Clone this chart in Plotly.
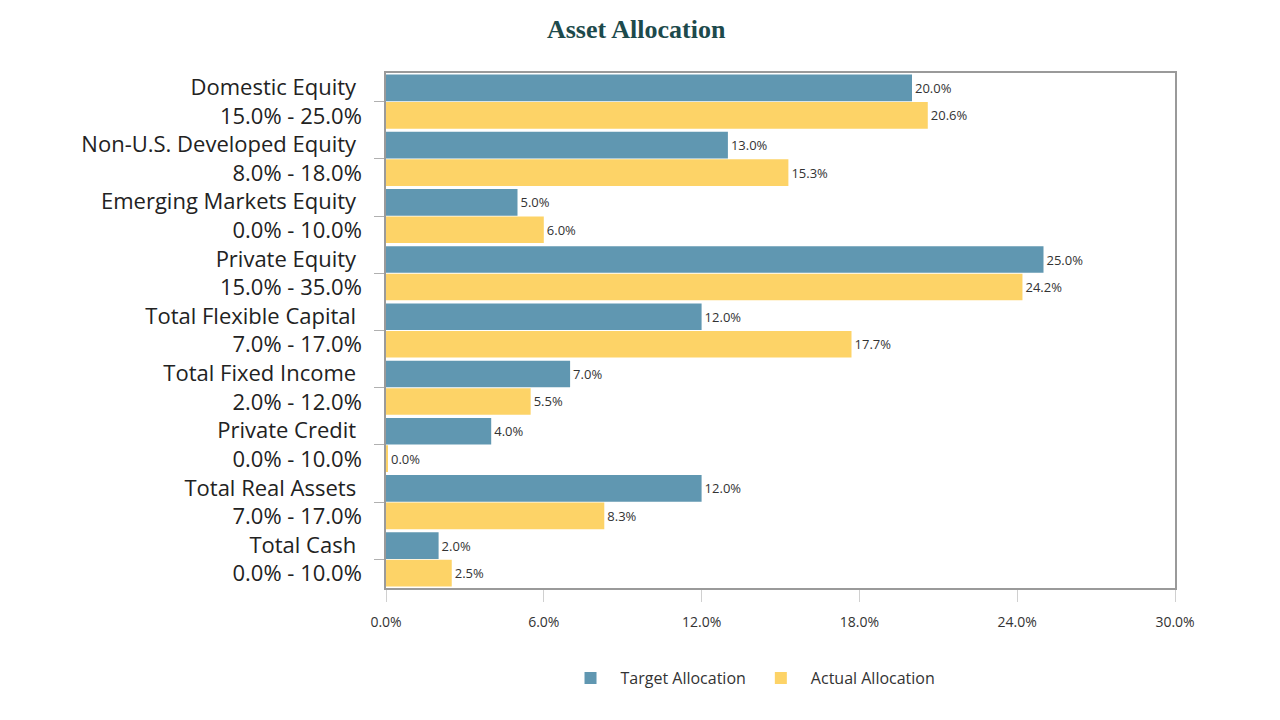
import plotly.graph_objects as go

categories = ["Domestic Equity", "Non-U.S. Developed Equity", "Emerging Markets Equity",
              "Private Equity", "Total Flexible Capital", "Total Fixed Income",
              "Private Credit", "Total Real Assets", "Total Cash"]
ranges = ["15.0% - 25.0%", "8.0% - 18.0%", "0.0% - 10.0%", "15.0% - 35.0%",
          "7.0% - 17.0%", "2.0% - 12.0%", "0.0% - 10.0%", "7.0% - 17.0%", "0.0% - 10.0%"]
target = [20.0, 13.0, 5.0, 25.0, 12.0, 7.0, 4.0, 12.0, 2.0]
actual = [20.6, 15.3, 6.0, 24.2, 17.7, 5.5, 0.04, 8.3, 2.5]
x_ticks = [0, 6, 12, 18, 24, 30]
x_tick_labels = ["0.0%", "6.0%", "12.0%", "18.0%", "24.0%", "30.0%"]

ticktext = [f"{c} <br>{r}" for c, r in zip(categories, ranges)]

fig = go.Figure()
fig.add_trace(go.Bar(
    y=categories, x=target, orientation="h", name="Target Allocation",
    marker=dict(color="#6097b1", line=dict(width=0)),
    text=[f"{v:.1f}%" for v in target], textposition="outside",
    textfont=dict(size=13, color="#333333", family="Open Sans"),
    cliponaxis=False, constraintext="none",
))
fig.add_trace(go.Bar(
    y=categories, x=actual, orientation="h", name="Actual Allocation",
    marker=dict(color="#fdd367", line=dict(width=0)),
    text=[f"{v:.1f}%" for v in actual], textposition="outside",
    textfont=dict(size=13, color="#333333", family="Open Sans"),
    cliponaxis=False, constraintext="none",
))

fig.update_layout(
    width=1280, height=720,
    margin=dict(l=386, r=105, t=73, b=132),
    paper_bgcolor="white", plot_bgcolor="white",
    barmode="group", bargap=0.04, bargroupgap=0.03,
    title=dict(text="<b>Asset Allocation</b>", x=0.497, xanchor="center", y=0.96, yanchor="middle",
               font=dict(family="Liberation Serif", size=26, color="#1d4a4c")),
    showlegend=True,
    legend=dict(orientation="h", x=0.462, xanchor="center", y=-0.175, yanchor="middle",
                font=dict(family="Open Sans", size=16, color="#333333"),
                itemwidth=50, tracegroupgap=0, traceorder="normal"),
    font=dict(family="Open Sans", color="#333333"),
)
fig.update_xaxes(
    range=[0, 30], tickvals=x_ticks, ticktext=x_tick_labels,
    showgrid=False, zeroline=False,
    showline=True, linecolor="#9a9a9a", linewidth=1.5, mirror=True,
    ticks="outside", ticklen=12, tickcolor="#d0d0d0",
    tickfont=dict(size=14, color="#333333"),
    ticklabelstandoff=8,
)
fig.update_yaxes(
    autorange="reversed", tickvals=categories, ticktext=ticktext,
    showgrid=False, zeroline=False,
    showline=True, linecolor="#9a9a9a", linewidth=1.5, mirror=True,
    ticks="outside", ticklen=10, tickcolor="#b0b0b0",
    tickfont=dict(size=22, color="#222222"),
    ticklabelstandoff=8,
)

fig.write_html("out.html")
